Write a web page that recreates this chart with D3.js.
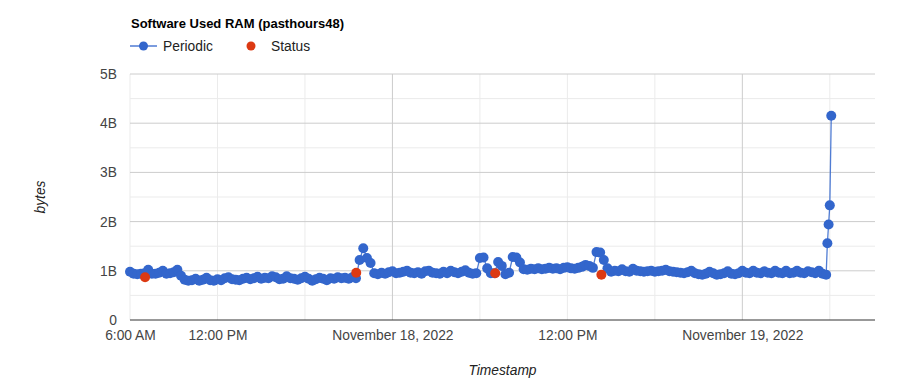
<!DOCTYPE html>
<html>
<head>
<meta charset="utf-8">
<script src="https://cdn.jsdelivr.net/npm/d3@7"></script>
<style>
body { margin: 0; background: #fff; }
svg { font-family: Arial, 'Liberation Sans', sans-serif; }
</style>
</head>
<body>
<div class="chart-container"></div>
<script>
// Data (times are minutes after 2022-11-17 06:00, values in billions of bytes)
const periodicMinutes = [
    0, 15, 30, 45, 60, 75, 90, 105, 120, 135, 150, 165, 180, 195, 210, 225,
    240, 255, 270, 285, 300, 315, 330, 345, 360, 375, 390, 405, 420, 435, 450, 465,
    480, 495, 510, 525, 540, 555, 570, 585, 600, 615, 630, 645, 660, 675, 690, 705,
    720, 735, 750, 765, 780, 795, 810, 825, 840, 855, 870, 885, 900, 915, 930, 945,
    960, 975, 990, 1005, 1020, 1035, 1050, 1065, 1080, 1095, 1110, 1125, 1140, 1155, 1170, 1185,
    1200, 1215, 1230, 1245, 1260, 1275, 1290, 1305, 1320, 1335, 1350, 1365, 1380, 1395, 1410, 1425,
    1440, 1455, 1470, 1485, 1500, 1515, 1530, 1545, 1560, 1575, 1590, 1605, 1620, 1635, 1650, 1665,
    1680, 1695, 1710, 1725, 1740, 1755, 1770, 1785, 1800, 1815, 1830, 1845, 1860, 1875, 1890, 1905,
    1920, 1935, 1950, 1965, 1980, 1995, 2010, 2025, 2040, 2055, 2070, 2085, 2100, 2115, 2130, 2145,
    2160, 2175, 2190, 2205, 2220, 2235, 2250, 2265, 2280, 2295, 2310, 2325, 2340, 2355, 2370, 2385,
    2400, 2415, 2430, 2445, 2460, 2475, 2490, 2505, 2520, 2535, 2550, 2565, 2580, 2595, 2610, 2625,
    2640, 2655, 2670, 2685, 2700, 2715, 2730, 2745, 2760, 2775, 2790, 2805, 2820, 2835, 2850, 2865,
    2870, 2875, 2880, 2886
];
const periodicValues = [
    0.98, 0.94, 0.93, 0.94, 0.95, 1.02, 0.94, 0.94, 0.96, 1.00, 0.94, 0.95, 0.97, 1.02, 0.90, 0.82,
    0.80, 0.81, 0.84, 0.80, 0.82, 0.86, 0.81, 0.80, 0.83, 0.81, 0.85, 0.87, 0.83, 0.82, 0.81, 0.84,
    0.86, 0.83, 0.85, 0.88, 0.84, 0.86, 0.85, 0.89, 0.87, 0.83, 0.84, 0.89, 0.85, 0.84, 0.82, 0.85,
    0.88, 0.84, 0.80, 0.83, 0.86, 0.84, 0.81, 0.85, 0.84, 0.87, 0.85, 0.86, 0.84, 0.87, 0.85, 1.22,
    1.46, 1.26, 1.16, 0.95, 0.93, 0.96, 0.94, 0.97, 0.99, 0.95, 0.96, 0.98, 1.00, 0.96, 0.95, 0.97,
    0.94, 0.99, 1.00, 0.96, 0.95, 0.94, 0.98, 0.95, 1.00, 0.97, 0.95, 0.98, 1.01, 0.96, 0.94, 0.95,
    1.26, 1.27, 1.05, 0.95, 0.95, 1.18, 1.10, 0.93, 0.96, 1.28, 1.27, 1.17, 1.03, 1.02, 1.04, 1.03,
    1.05, 1.03, 1.04, 1.06, 1.04, 1.05, 1.03, 1.06, 1.07, 1.05, 1.04, 1.06, 1.08, 1.12, 1.10, 1.06,
    1.38, 1.37, 1.22, 1.05, 0.98, 1.00, 0.99, 1.03, 0.99, 0.98, 1.04, 1.00, 0.99, 0.98, 0.99, 1.00,
    0.98, 0.99, 1.00, 1.02, 0.99, 0.98, 0.97, 0.96, 0.95, 0.97, 1.00, 0.95, 0.93, 0.92, 0.94, 0.98,
    0.95, 0.92, 0.93, 0.95, 0.99, 0.94, 0.93, 0.95, 1.00, 0.96, 0.95, 1.00, 0.96, 0.95, 0.99, 0.96,
    0.95, 1.00, 0.96, 0.95, 1.00, 0.95, 0.96, 1.00, 0.96, 0.95, 0.99, 0.97, 0.95, 1.00, 0.94, 0.92,
    1.56, 1.94, 2.33, 4.15
];
const statusMinutes = [62, 931, 1503, 1940];
const statusValues = [0.87, 0.96, 0.95, 0.92];

// ticks
const xTickMinutes = [0, 360, 1080, 1800, 2520];
const xTickLabels = ['6:00 AM', '12:00 PM', 'November 18, 2022', '12:00 PM', 'November 19, 2022'];
const xGridMinutes = [0, 360, 720, 1080, 1440, 1800, 2160, 2520, 2880];
const xDateGridMinutes = [1080, 2520];
const yTickValues = [0, 1, 2, 3, 4, 5];
const yTickLabels = ['0', '1B', '2B', '3B', '4B', '5B'];
const yMinorValues = [0.5, 1.5, 2.5, 3.5, 4.5];

const startTime = new Date(2022, 10, 17, 6, 0);
const toDate = m => new Date(startTime.getTime() + m * 60000);

const periodicData = periodicMinutes.map((m, i) => ({ time: toDate(m), value: periodicValues[i] * 1e9 }));
const statusData = statusMinutes.map((m, i) => ({ time: toDate(m), value: statusValues[i] * 1e9 }));

const labelFont = '13.8px';

function setupCanvas() {
    const svg_width = 900;
    const svg_height = 388;
    const plot = { left: 130, right: 875, top: 74, bottom: 320 };

    const svg = d3.select('.chart-container').append('svg')
        .attr('width', svg_width).attr('height', svg_height);

    const xScale = d3.scaleTime()
        .domain([startTime, toDate(3066)])
        .range([plot.left, plot.right]);
    const yScale = d3.scaleLinear()
        .domain([0, 5e9])
        .range([plot.bottom, plot.top]);

    // minor horizontal gridlines
    svg.append('g').selectAll('line').data(yMinorValues).enter()
        .append('line')
        .attr('x1', plot.left).attr('x2', plot.right)
        .attr('y1', d => yScale(d * 1e9)).attr('y2', d => yScale(d * 1e9))
        .attr('stroke', '#ebebeb');

    // vertical gridlines
    svg.append('g').selectAll('line').data(xGridMinutes).enter()
        .append('line')
        .attr('x1', d => xScale(toDate(d))).attr('x2', d => xScale(toDate(d)))
        .attr('y1', plot.top).attr('y2', plot.bottom)
        .attr('stroke', d => xDateGridMinutes.includes(d) ? '#cccccc' : '#ebebeb');

    // major horizontal gridlines
    svg.append('g').selectAll('line').data(yTickValues.slice(1)).enter()
        .append('line')
        .attr('x1', plot.left).attr('x2', plot.right)
        .attr('y1', d => yScale(d * 1e9)).attr('y2', d => yScale(d * 1e9))
        .attr('stroke', '#cccccc');

    // y axis labels
    const yAxis = d3.axisLeft(yScale)
        .tickValues(yTickValues.map(d => d * 1e9))
        .tickFormat((d, i) => yTickLabels[i])
        .tickSize(0).tickPadding(13);
    const yAxisDraw = svg.append('g')
        .attr('transform', `translate(${plot.left},0)`)
        .call(yAxis);
    yAxisDraw.select('.domain').remove();
    yAxisDraw.selectAll('text')
        .style('font-size', labelFont).style('fill', '#444')
        .style('font-family', "Arial, 'Liberation Sans', sans-serif");

    // x axis
    const xAxis = d3.axisBottom(xScale)
        .tickValues(xTickMinutes.map(toDate))
        .tickFormat((d, i) => xTickLabels[i])
        .tickSize(0).tickSizeOuter(0).tickPadding(10);
    const xAxisDraw = svg.append('g')
        .attr('transform', `translate(0,${plot.bottom})`)
        .call(xAxis);
    xAxisDraw.select('.domain').remove();
    xAxisDraw.selectAll('text')
        .style('font-size', labelFont).style('fill', '#444')
        .style('font-family', "Arial, 'Liberation Sans', sans-serif");

    svg.append('line')
        .attr('x1', plot.left).attr('x2', plot.right)
        .attr('y1', plot.bottom).attr('y2', plot.bottom)
        .attr('stroke', '#333').attr('stroke-width', 1);

    // periodic line + points
    const line = d3.line().x(d => xScale(d.time)).y(d => yScale(d.value));
    svg.append('path').datum(periodicData)
        .attr('d', line)
        .attr('fill', 'none')
        .attr('stroke', '#3366cc')
        .attr('stroke-width', 1.3)
        .attr('stroke-opacity', 0.85);
    svg.selectAll('.periodic').data(periodicData).enter()
        .append('circle').attr('class', 'periodic')
        .attr('cx', d => xScale(d.time))
        .attr('cy', d => yScale(d.value))
        .attr('r', 5)
        .style('fill', '#3366cc');

    svg.selectAll('.status').data(statusData).enter()
        .append('circle').attr('class', 'status')
        .attr('cx', d => xScale(d.time))
        .attr('cy', d => yScale(d.value))
        .attr('r', 5)
        .style('fill', '#dc3912');

    // title
    svg.append('text')
        .attr('x', 131).attr('y', 28)
        .style('font-size', '13px').style('font-weight', 'bold').style('fill', '#000')
        .text('Software Used RAM (pasthours48)');

    // legend
    const legend = svg.append('g');
    legend.append('line')
        .attr('x1', 130).attr('x2', 157).attr('y1', 46).attr('y2', 46)
        .attr('stroke', '#3366cc').attr('stroke-width', 1.3);
    legend.append('circle').attr('cx', 143.5).attr('cy', 46).attr('r', 4.5).style('fill', '#3366cc');
    legend.append('text').attr('x', 163).attr('y', 51)
        .style('font-size', labelFont).style('fill', '#222').text('Periodic');
    legend.append('circle').attr('cx', 251).attr('cy', 46).attr('r', 4.5).style('fill', '#dc3912');
    legend.append('text').attr('x', 271).attr('y', 51)
        .style('font-size', labelFont).style('fill', '#222').text('Status');

    // axis titles
    svg.append('text')
        .attr('x', (plot.left + plot.right) / 2).attr('y', 375)
        .attr('text-anchor', 'middle')
        .style('font-size', labelFont).style('font-style', 'italic').style('fill', '#222')
        .text('Timestamp');
    svg.append('text')
        .attr('transform', `translate(45,${(plot.top + plot.bottom) / 2}) rotate(-90)`)
        .attr('text-anchor', 'middle')
        .style('font-size', labelFont).style('font-style', 'italic').style('fill', '#222')
        .text('bytes');
}

setupCanvas();
</script>
</body>
</html>
